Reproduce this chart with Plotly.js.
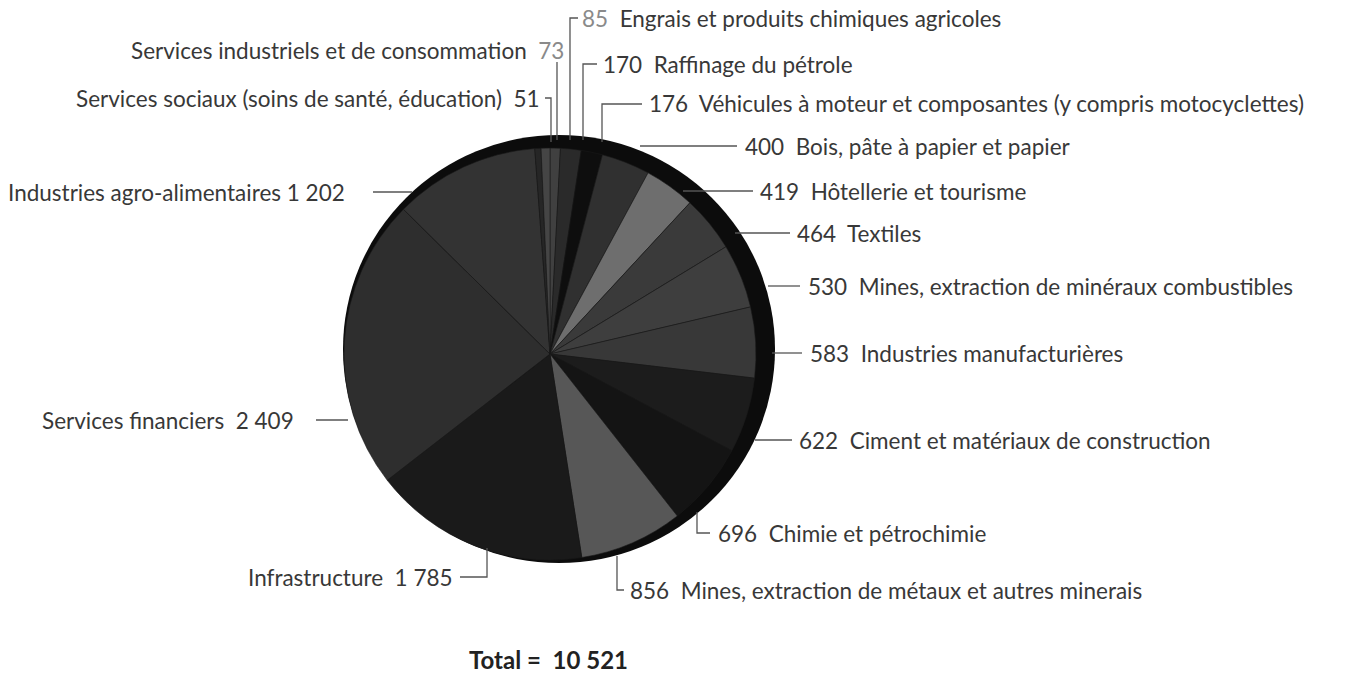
<!DOCTYPE html>
<html>
<head>
<meta charset="utf-8">
<script src="https://cdn.plot.ly/plotly-3.0.1.min.js"></script>
<style>html,body{margin:0;padding:0;background:#fff;}#chart{width:1358px;height:678px;}</style>
</head>
<body>
<div id="chart"></div>
<script>
// ---- data (clockwise from 12 o'clock) ----
const categories = [
  "Engrais et produits chimiques agricoles",
  "Raffinage du pétrole",
  "Véhicules à moteur et composantes (y compris motocyclettes)",
  "Bois, pâte à papier et papier",
  "Hôtellerie et tourisme",
  "Textiles",
  "Mines, extraction de minéraux combustibles",
  "Industries manufacturières",
  "Ciment et matériaux de construction",
  "Chimie et pétrochimie",
  "Mines, extraction de métaux et autres minerais",
  "Infrastructure",
  "Services financiers",
  "Industries agro-alimentaires",
  "Services sociaux (soins de santé, éducation)",
  "Services industriels et de consommation"
];
const values = [85, 170, 176, 400, 419, 464, 530, 583, 622, 696, 856, 1785, 2409, 1202, 51, 73];
const sliceColors = ["#404040", "#2a2a2a", "#0e0e0e", "#303030", "#6e6e6e", "#3a3a3a", "#3e3e3e", "#383838",
                     "#1c1c1c", "#141414", "#575757", "#1a1a1a", "#2e2e2e", "#333333", "#262626", "#454545"];
const totalLabel = "Total =";

// ---- layout helpers ----
const W = 1358, H = 678;
const X = p => p / W;
const Y = p => 1 - p / H;
const fmt = v => String(v).replace(/\B(?=(\d{3})+(?!\d))/g, " ");

// label placement (pixels): side 'r' => text starts at x, 'l' => text ends at x; gap = spaces between name and number
const labelPos = [
  {x: 580, y: 18, side: "r", gap: 2},
  {x: 601, y: 64, side: "r", gap: 2},
  {x: 647, y: 104, side: "r", gap: 2},
  {x: 743, y: 146, side: "r", gap: 2},
  {x: 758, y: 191, side: "r", gap: 2},
  {x: 795, y: 233, side: "r", gap: 2},
  {x: 806, y: 286, side: "r", gap: 2},
  {x: 808, y: 353, side: "r", gap: 2},
  {x: 797, y: 440, side: "r", gap: 2},
  {x: 716, y: 533, side: "r", gap: 2},
  {x: 628, y: 590, side: "r", gap: 2},
  {x: 455, y: 577, side: "l", gap: 2},
  {x: 296, y: 420, side: "l", gap: 2},
  {x: 347, y: 192, side: "l", gap: 1},
  {x: 542, y: 98, side: "l", gap: 2},
  {x: 566, y: 50, side: "l", gap: 2}
];
// leader lines (pixels)
const leaders = [
  [[578,18],[570,18],[570,140]],
  [[597,64],[583,64],[583,140]],
  [[642,104],[602,104],[602,142]],
  [[737,146],[640,146]],
  [[753,191],[683,191]],
  [[790,233],[735,233]],
  [[800,286],[768,286]],
  [[802,353],[772,353]],
  [[792,440],[755,440]],
  [[710,533],[697,533],[697,512]],
  [[624,590],[617,590],[617,556]],
  [[460,577],[487,577],[487,548]],
  [[316,420],[348,420]],
  [[373,192],[412,192]],
  [[545,98],[551,98],[551,142]],
  [[557,62],[557,140]]
];

const annotations = categories.map((c, i) => {
  const p = labelPos[i];
  const num = fmt(values[i]);
  const numColored = (i === 0 || i === 15) ? `<span style="color:#8a8a8a">${num}</span>` : num;
  const sp = p.gap === 2 ? "  " : " ";
  const text = p.side === "r" ? `${numColored}${sp}${c}` : `${c}${sp}${numColored}`;
  return {
    x: X(p.x), y: Y(p.y), xref: "paper", yref: "paper",
    xanchor: p.side === "r" ? "left" : "right", yanchor: "middle",
    text: text, showarrow: false,
    font: {family: "Lato, 'Open Sans', sans-serif", size: 22.5, color: "#383838"}
  };
});
const total = values.reduce((a, b) => a + b, 0);
annotations.push({
  x: X(467), y: Y(659), xref: "paper", yref: "paper", xanchor: "left", yanchor: "middle",
  text: `<b>${totalLabel}  ${fmt(total)}</b>`, showarrow: false,
  font: {family: "Lato, 'Open Sans', sans-serif", size: 24, color: "#222"}
});

const shapes = [
  {type: "circle", xref: "paper", yref: "paper", layer: "below",
   x0: X(343), x1: X(775), y0: Y(563), y1: Y(135),
   fillcolor: "#0c0c0c", line: {width: 0}}
];
leaders.forEach(pts => {
  const d = pts.map((q, k) => (k ? "L" : "M") + X(q[0]).toFixed(5) + "," + Y(q[1]).toFixed(5)).join(" ");
  shapes.push({type: "path", xref: "paper", yref: "paper", path: d, layer: "above",
               line: {color: "#555", width: 1.3}});
});

const trace = {
  type: "pie",
  labels: categories,
  values: values,
  sort: false,
  direction: "clockwise",
  rotation: 0,
  textinfo: "none",
  hoverinfo: "label+value",
  marker: {colors: sliceColors, line: {color: "#1a1a1a", width: 0.6}},
  domain: {x: [X(344), X(756)], y: [Y(560), Y(148)]},
  showlegend: false
};

Plotly.newPlot("chart", [trace], {
  width: W, height: H,
  margin: {l: 0, r: 0, t: 0, b: 0},
  paper_bgcolor: "#ffffff",
  showlegend: false,
  annotations: annotations,
  shapes: shapes
}, {displayModeBar: false, staticPlot: true});
</script>
</body>
</html>
